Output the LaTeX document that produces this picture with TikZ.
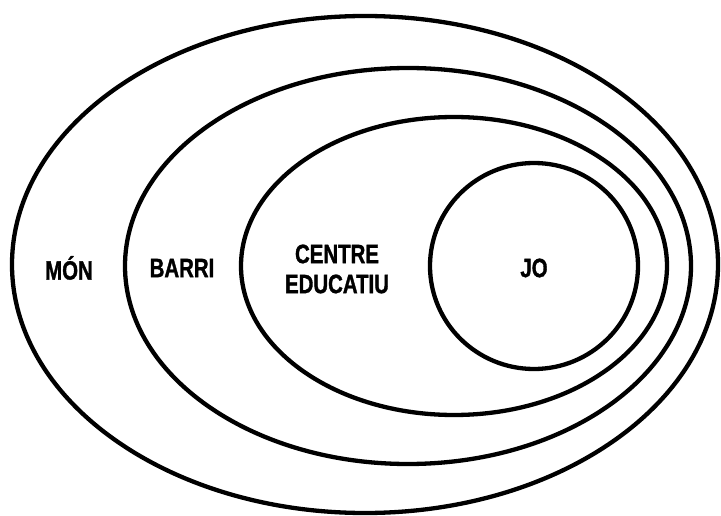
\documentclass[tikz,border=0pt]{standalone}
\usepackage{fontspec}
\newfontfamily\labfont{Liberation Sans}[FakeStretch=0.77,FakeBold=1.2,UprightFont=*-Bold]
\usetikzlibrary{shapes.geometric}
\begin{document}
\begin{tikzpicture}[x=1pt,y=-1pt,
  ring/.style={ellipse,draw=black,line width=4.3pt,inner sep=0pt,outer sep=0pt},
  lab/.style={font=\labfont\fontsize{26.5}{30}\selectfont,text=black,align=center,inner sep=0pt}]
\useasboundingbox (0,0) rectangle (721,516);
\node[ring,minimum width=706pt,minimum height=497pt] (mon) at (365,264.5) {};
\node[ring,minimum width=566pt,minimum height=396pt] (barri) at (408,266) {};
\node[ring,minimum width=426pt,minimum height=298pt] (centre) at (454,266) {};
\node[ring,minimum width=208pt,minimum height=206pt] (jo) at (534,266) {};
\node[lab] (tmon) at (69,268) {MÓN};
\node[lab] (tbarri) at (182,268) {BARRI};
\node[lab] (tcentre) at (337,269) {CENTRE\\EDUCATIU};
\node[lab] (tjo) at (534,268) {JO};
\end{tikzpicture}
\end{document}
